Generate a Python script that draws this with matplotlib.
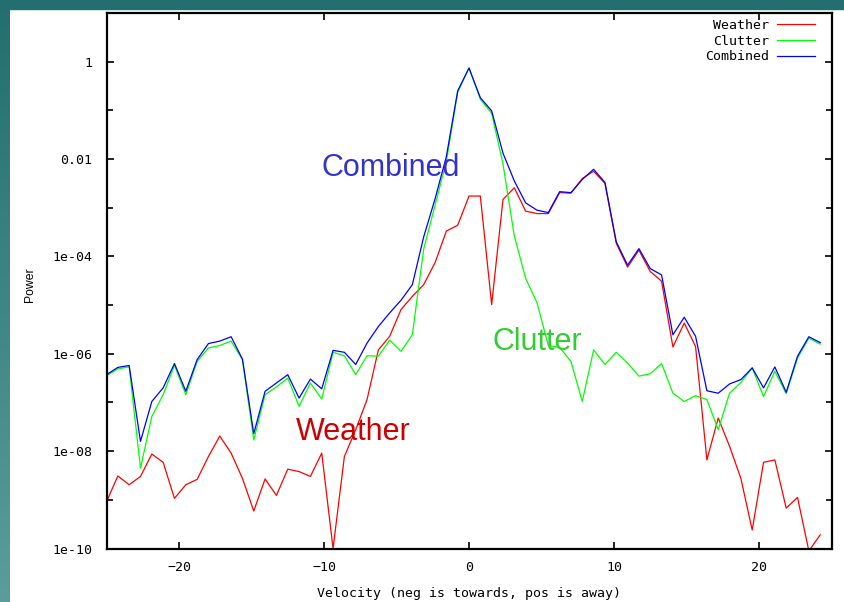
import numpy as np
import matplotlib
matplotlib.use("Agg")
import matplotlib.pyplot as plt
from matplotlib.colors import LinearSegmentedColormap
from matplotlib.patches import Rectangle
from matplotlib.ticker import FixedLocator, FixedFormatter, NullFormatter

# 64 velocity bins from -25 to 25 m/s
velocity = np.linspace(-25, 25, 64, endpoint=False)

# powers, as log10 exponents
weather_exp = [-9.04, -8.51, -8.69, -8.52, -8.06, -8.23, -8.97, -8.69,
               -8.58, -8.11, -7.69, -8.04, -8.56, -9.23, -8.57, -8.91,
               -8.37, -8.42, -8.52, -8.04, -10.0, -8.11, -7.56, -6.94,
               -5.92, -5.64, -5.09, -4.82, -4.58, -4.13, -3.48, -3.36,
               -2.76, -2.76, -4.99, -2.83, -2.59, -3.07, -3.12, -3.12,
               -2.69, -2.70, -2.40, -2.25, -2.50, -3.73, -4.22, -3.87,
               -4.31, -4.51, -5.86, -5.37, -5.85, -8.18, -7.32, -7.90,
               -8.56, -9.62, -8.23, -8.18, -9.17, -8.95, -10.05, -9.72]

clutter_exp = [-6.45, -6.31, -6.27, -8.35, -7.29, -6.84, -6.24, -6.84,
               -6.16, -5.88, -5.83, -5.74, -6.12, -7.77, -6.84, -6.68,
               -6.50, -7.08, -6.60, -6.93, -5.97, -6.04, -6.43, -6.04,
               -6.05, -5.72, -5.95, -5.61, -3.85, -2.95, -2.05, -0.63,
               -0.13, -0.77, -1.06, -2.10, -3.58, -4.45, -4.95, -5.83,
               -5.87, -6.16, -6.98, -5.92, -6.22, -5.97, -6.19, -6.46,
               -6.41, -6.20, -6.81, -6.98, -6.86, -6.94, -7.56, -6.81,
               -6.59, -6.29, -6.88, -6.36, -6.82, -6.09, -5.68, -5.80]

combined_exp = [-6.43, -6.28, -6.24, -7.80, -6.98, -6.70, -6.20, -6.77,
                -6.12, -5.79, -5.74, -5.65, -6.11, -7.64, -6.77, -6.60,
                -6.43, -6.91, -6.52, -6.72, -5.93, -5.97, -6.22, -5.78,
                -5.44, -5.16, -4.90, -4.58, -3.60, -2.82, -1.95, -0.60,
                -0.13, -0.74, -1.01, -1.88, -2.45, -2.90, -3.05, -3.10,
                -2.67, -2.69, -2.42, -2.21, -2.48, -3.70, -4.18, -3.84,
                -4.25, -4.38, -5.61, -5.25, -5.64, -6.76, -6.81, -6.62,
                -6.53, -6.29, -6.70, -6.27, -6.79, -6.05, -5.65, -5.77]

weather = 10.0 ** np.array(weather_exp)
clutter = 10.0 ** np.array(clutter_exp)
combined = 10.0 ** np.array(combined_exp)

W, H = 844, 602
fig = plt.figure(figsize=(W / 100, H / 100), dpi=100)

# teal slide border on the left and top
band = fig.add_axes([0, 0, 10 / W, 1])
cmap = LinearSegmentedColormap.from_list("teal", ["#236e6e", "#5c9c9c"])
band.imshow(np.linspace(0, 1, 256).reshape(-1, 1), aspect="auto", cmap=cmap)
band.axis("off")
fig.patches.append(Rectangle((0, 1 - 9 / H), 1, 9 / H, transform=fig.transFigure,
                             color="#236e6e", zorder=0))

ax = fig.add_axes([106.5 / W, (H - 548.5) / H, 725 / W, 535.5 / H])
ax.plot(velocity, weather, color="#ff0000", lw=0.9, label="Weather")
ax.plot(velocity, clutter, color="#00ff00", lw=0.9, label="Clutter")
ax.plot(velocity, combined, color="#0000ff", lw=0.9, label="Combined")

ax.set_yscale("log")
ax.set_xlim(-25, 25)
ax.set_ylim(1e-10, 10)

mono = "DejaVu Sans Mono"
ax.set_xticks([-20, -10, 0, 10, 20])
ax.yaxis.set_major_locator(FixedLocator([1e-10, 1e-8, 1e-6, 1e-4, 1e-2, 1]))
ax.yaxis.set_major_formatter(FixedFormatter(["1e-10", "1e-08", "1e-06", "1e-04", "0.01", "1"]))
ax.yaxis.set_minor_locator(FixedLocator([1e-9, 1e-7, 1e-5, 1e-3, 1e-1]))
ax.yaxis.set_minor_formatter(NullFormatter())
ax.tick_params(which="both", direction="in", top=True, right=True, width=1.2)
ax.tick_params(which="major", length=5)
ax.tick_params(which="minor", length=4)
ax.tick_params(axis="x", pad=9)
ax.tick_params(axis="y", pad=10)
for lab in ax.get_xticklabels() + ax.get_yticklabels():
    lab.set_fontfamily(mono)
    lab.set_fontsize(9.5)
for s in ax.spines.values():
    s.set_linewidth(1.6)

# in-plot labels
ax.text(-10.14, 10 ** -2.356, "Combined", color="#3333cc", fontsize=22,
        family="Liberation Sans", va="baseline")
ax.text(1.59, 10 ** -5.92, "Clutter", color="#33cc33", fontsize=22,
        family="Liberation Sans", va="baseline")
ax.text(-11.93, 10 ** -7.77, "Weather", color="#cc0000", fontsize=22,
        family="Liberation Sans", va="baseline")

ax.legend(loc="upper right", bbox_to_anchor=(815 / W, 1 - 19 / H),
          bbox_transform=fig.transFigure, frameon=False, markerfirst=False,
          borderpad=0, borderaxespad=0, handlelength=2.85, handletextpad=0.6,
          labelspacing=0.2, prop={"family": mono, "size": 9.5})

fig.text(469 / W, 1 - 593 / H, "Velocity (neg is towards, pos is away)",
         family=mono, fontsize=9.5, ha="center", va="center")
fig.text(30 / W, 1 - 285 / H, "Power", family="Liberation Sans", fontsize=8.8,
         rotation=90, ha="center", va="center")

fig.savefig("out.png", dpi=100)
